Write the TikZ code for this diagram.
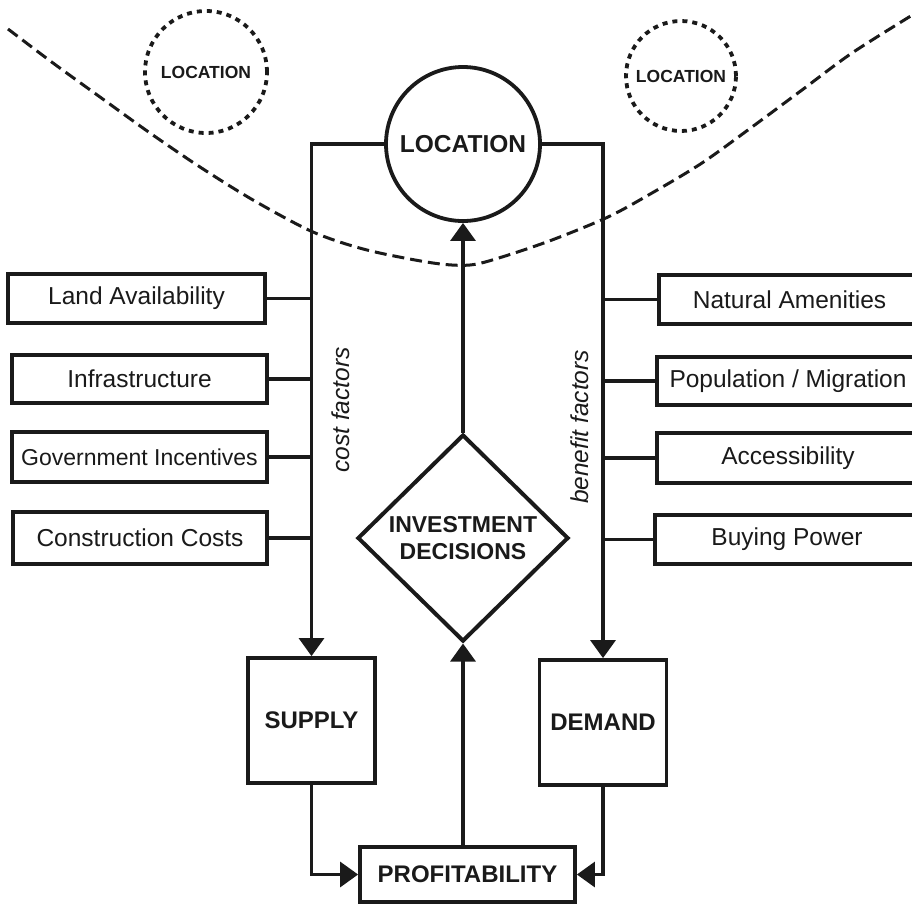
\documentclass[tikz,border=0pt]{standalone}
\usepackage{fontspec}
\setmainfont{Liberation Sans}
\usetikzlibrary{shapes.geometric,arrows.meta}
\definecolor{ink}{HTML}{1A1A1A}
\begin{document}
\begin{tikzpicture}[x=1pt,y=-1pt,
  every node/.style={text=ink},
  factorbox/.style={draw=ink,line width=3.8pt,inner sep=0pt,rectangle,font=\fontsize{24.5}{27}\selectfont},
  mainbox/.style={draw=ink,line width=3.8pt,inner sep=0pt,rectangle,font=\bfseries\fontsize{24}{27}\selectfont},
  dashcirc/.style={draw=ink,circle,line width=3.8pt,dash pattern=on 5pt off 5pt,inner sep=0pt,font=\bfseries\fontsize{17.5}{20}\selectfont},
  link/.style={draw=ink,line width=3.2pt},
  flow/.style={draw=ink,line width=3.2pt,-{Triangle[length=18pt,width=25pt]}},
  sidelabel/.style={rotate=90,font=\itshape\fontsize{24.5}{26}\selectfont},
  wave/.style={draw=ink,line width=3pt,dash pattern=on 12pt off 6pt}
]
\useasboundingbox (0,0) rectangle (912,903);
\fill[white] (0,0) rectangle (912,903);
\clip (0,0) rectangle (912,903);

% dashed boundary curve
\draw[wave] plot[smooth] coordinates {(8,29) (53,63) (100,97) (150,133) (200,167) (253,200) (313,232) (367,250) (433,263) (470,265) (502,257) (552,240) (608,217) (652,193) (702,163) (752,127) (802,90) (852,53) (914,14)};

% locations
\node[dashcirc,minimum size=122pt] (locL) at (206,72) {LOCATION};
\node[dashcirc,minimum size=110pt] (locR) at (681,76) {LOCATION};
\node[draw=ink,circle,line width=3.8pt,minimum size=154pt,inner sep=0pt,fill=white,font=\bfseries\fontsize{24.5}{27}\selectfont] (loc) at (463,144) {LOCATION};

% left factors
\node[factorbox,minimum width=257pt,minimum height=49pt] (la) at (136.5,298.5) {Land Availability};
\node[factorbox,minimum width=255pt,minimum height=48pt] (inf) at (139.5,379) {Infrastructure};
\node[factorbox,minimum width=255pt,minimum height=50pt,font=\fontsize{23}{26}\selectfont] (gov) at (139.5,457) {Government Incentives};
\node[factorbox,minimum width=254pt,minimum height=52pt] (cc) at (140,538) {Construction Costs};

% right factors
\node[factorbox,minimum width=261pt,minimum height=49pt] (na) at (789.5,299.5) {Natural Amenities};
\node[factorbox,minimum width=262pt,minimum height=48pt] (pm) at (788,381) {Population / Migration};
\node[factorbox,minimum width=262pt,minimum height=50pt] (acc) at (788,458) {Accessibility};
\node[factorbox,minimum width=264pt,minimum height=49pt] (bp) at (787,539.5) {Buying Power};

% center
\node[draw=ink,diamond,line width=4pt,minimum width=211pt,minimum height=207pt,inner sep=0pt,align=center,font=\bfseries\fontsize{23}{27}\selectfont] (inv) at (463,538) {INVESTMENT\\DECISIONS};
\node[mainbox,minimum width=127pt,minimum height=125pt] (sup) at (311.5,720.5) {SUPPLY};
\node[mainbox,minimum width=127pt,minimum height=125pt] (dem) at (603,722.5) {DEMAND};
\node[mainbox,minimum width=215pt,minimum height=55pt] (prof) at (467.5,874.5) {PROFITABILITY};

\node[sidelabel] (costlab) at (341,410) {cost factors};
\node[sidelabel] (benlab) at (580,427) {benefit factors};

% main flows
\draw[flow] (loc.west) -| (sup.north);
\draw[flow] (loc.east) -| (dem.north);
\draw[flow] (inv.north) -- (loc.south);
\draw[flow] (prof.north -| inv.south) -- (inv.south);
\draw[flow] (sup.south) |- (prof.west);
\draw[flow] (dem.south) |- (prof.east);

% factor links
\foreach \n in {la,inf,gov,cc} \draw[link] (\n.east) -- (\n.east -| sup.north);
\foreach \n in {na,pm,acc,bp} \draw[link] (\n.west) -- (\n.west -| dem.north);
\end{tikzpicture}
\end{document}
